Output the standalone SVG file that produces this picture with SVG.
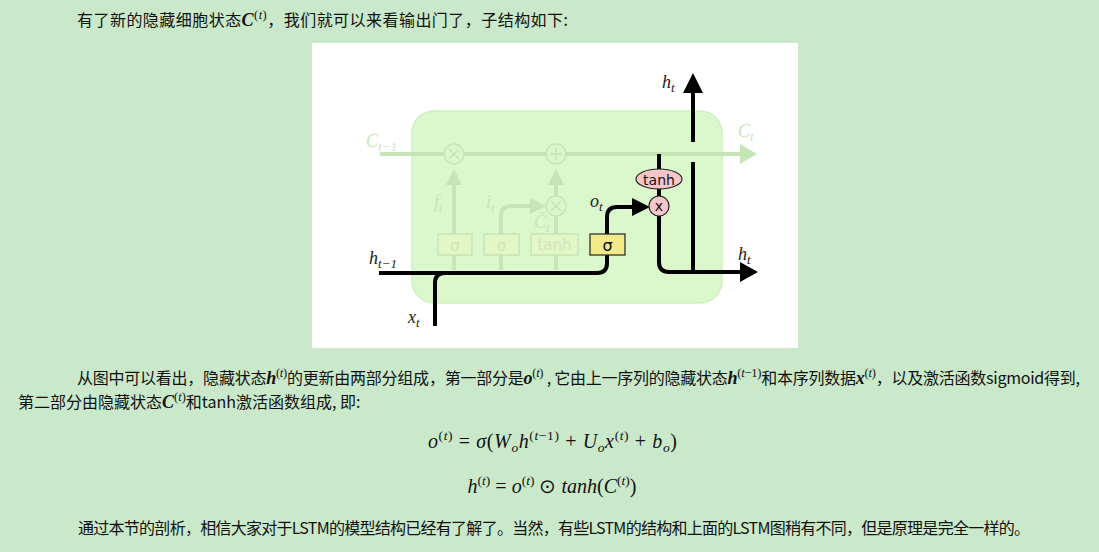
<svg xmlns="http://www.w3.org/2000/svg" width="1099" height="552" viewBox="0 0 1099 552">
<style>
.cn{font-family:"Noto Sans CJK SC","Noto Sans",sans-serif;font-size:16px;fill:#111}
.m{font-family:"Liberation Serif",serif;font-style:italic;font-size:18px;fill:#111}
.mu{font-family:"Liberation Serif",serif;font-size:18px;fill:#111}
.sup{font-size:12.5px}
.eq{font-family:"Liberation Serif",serif;font-style:italic;font-size:20px;fill:#111}
.es{font-size:13.5px}
.fl{fill:none;stroke:#c6e4b6;stroke-width:4}
.fa{fill:#c6e4b6}
.fc{fill:#daf7cc;stroke:#c6e4b6;stroke-width:1.5}
.fb{fill:#e3f6c6;stroke:#c9e4b5;stroke-width:1.5}
.ft{font-family:"DejaVu Sans",sans-serif;font-size:15px;fill:#cfe6bd;text-anchor:middle}
.fm{font-family:"Liberation Serif",serif;font-style:italic;font-size:18px;fill:#c8e5b8}
.bl{fill:none;stroke:#000;stroke-width:4}
.ba{fill:#000}
.lab{font-family:"Liberation Serif",serif;font-style:italic;font-size:18px;fill:#222}
.pk{fill:#f7c6c9;stroke:#222;stroke-width:1.2}
</style>
<rect width="1099" height="552" fill="#c9e9ca"/>
<text class="cn" x="77" y="26" textLength="491" lengthAdjust="spacing">有了新的隐藏细胞状态<tspan class="m" font-weight="bold">C</tspan><tspan class="mu sup" dy="-7">(<tspan font-style="italic">t</tspan>)</tspan><tspan dy="7">，我们就可以来看输出门了，子结构如下:</tspan></text>
<g id="figure">
<rect x="312" y="43" width="486" height="305" fill="#fff"/>
<rect id="cell" x="412" y="111" width="310" height="192" rx="22" fill="#daf8cc" stroke="#d0efc0" stroke-width="1.5"/>
<g id="faded">
<path class="fl" d="M380 154 H742"/>
<polygon class="fa" points="740,144 757,154 740,164"/>
<path class="fl" d="M454 270 V255 M454 234 V185"/>
<polygon class="fa" points="446,185 454,169 462,185"/>
<path class="fl" d="M501 270 V255 M501 234 V216 Q501 206 511 206 H530"/>
<polygon class="fa" points="530,198 546,206 530,214"/>
<path class="fl" d="M556 270 V255 M556 234 V216 M556 196 V185"/>
<polygon class="fa" points="548,185 556,169 564,185"/>
<circle class="fc" cx="454" cy="154" r="10"/>
<path d="M449 149 L459 159 M459 149 L449 159" stroke="#c6e4b6" stroke-width="1.5"/>
<circle class="fc" cx="556" cy="154" r="10"/>
<path d="M550 154 H562 M556 148 V160" stroke="#c6e4b6" stroke-width="1.5"/>
<circle class="fc" cx="556" cy="206" r="10"/>
<path d="M551 201 L561 211 M561 201 L551 211" stroke="#c6e4b6" stroke-width="1.5"/>
<rect class="fb" x="438" y="234" width="34" height="21"/>
<text class="ft" x="455" y="251">σ</text>
<rect class="fb" x="484" y="234" width="35" height="21"/>
<text class="ft" x="501.5" y="251">σ</text>
<rect class="fb" x="531" y="234" width="47" height="21"/>
<text class="ft" x="554.5" y="250">tanh</text>
<text class="fm" x="366" y="147">C<tspan font-size="13" dy="4">t−1</tspan></text>
<text class="fm" x="738" y="137">C<tspan font-size="13" dy="4">t</tspan></text>
<text class="fm" x="434" y="208">f<tspan font-size="13" dy="4">t</tspan></text>
<text class="fm" x="486" y="208">i<tspan font-size="13" dy="4">t</tspan></text>
<text class="fm" x="534" y="228">C̃<tspan font-size="13" dy="4">t</tspan></text>
</g>
<g id="connectors">
<path class="bl" d="M379 273 H597 Q607 273 607 263 V255"/>
<path class="bl" d="M435 326 V283 Q435 273 445 273"/>
<path class="bl" d="M607 234 V217 Q607 207 617 207 H634"/>
<polygon class="ba" points="632,198 650,207 632,216"/>
<path class="bl" d="M659 154 V196"/>
<path class="bl" d="M659 216 V262 Q659 272 669 272 H742"/>
<polygon class="ba" points="740,262 758,272 740,282"/>
<path class="bl" d="M693 272 V162 M693 142 V90"/>
<polygon class="ba" points="683,93 693,73 703,93"/>
</g>
<g id="sigma_o">
<rect x="590" y="234" width="35" height="21" fill="#f1e98a" stroke="#222" stroke-width="1.2"/>
<text x="607.5" y="251" font-family="DejaVu Sans,sans-serif" font-size="16" text-anchor="middle" fill="#111">σ</text>
</g>
<g id="tanh_o">
<ellipse class="pk" cx="659" cy="179" rx="23" ry="10"/>
<text x="659" y="184.5" font-family="DejaVu Sans,sans-serif" font-size="14" text-anchor="middle" fill="#111">tanh</text>
</g>
<g id="mult_o">
<circle class="pk" cx="659" cy="206" r="10"/>
<text x="659" y="211" font-family="DejaVu Sans,sans-serif" font-size="14" text-anchor="middle" fill="#111">x</text>
</g>
<g id="labels">
<text class="lab" x="662" y="88">h<tspan font-size="13" dy="4">t</tspan></text>
<text class="lab" x="738" y="260">h<tspan font-size="13" dy="4">t</tspan></text>
<text class="lab" x="369" y="264">h<tspan font-size="13" dy="4">t−1</tspan></text>
<text class="lab" x="408" y="323">x<tspan font-size="13" dy="4">t</tspan></text>
<text class="lab" x="590" y="207">o<tspan font-size="13" dy="4">t</tspan></text>
</g>
</g>
<text class="cn" x="77" y="384" textLength="1003" lengthAdjust="spacing">从图中可以看出，隐藏状态<tspan class="m" font-weight="bold">h</tspan><tspan class="mu sup" dy="-7">(<tspan font-style="italic">t</tspan>)</tspan><tspan dy="7">的更新由两部分组成，第一部分是</tspan><tspan class="m" font-weight="bold">o</tspan><tspan class="mu sup" dy="-7">(<tspan font-style="italic">t</tspan>)</tspan><tspan dy="7"> , 它由上一序列的隐藏状态</tspan><tspan class="m" font-weight="bold">h</tspan><tspan class="mu sup" dy="-7">(<tspan font-style="italic">t</tspan>−1)</tspan><tspan dy="7">和本序列数据</tspan><tspan class="m" font-weight="bold">x</tspan><tspan class="mu sup" dy="-7">(<tspan font-style="italic">t</tspan>)</tspan><tspan dy="7">，以及激活函数sigmoid得到,</tspan></text>
<text class="cn" x="18" y="408">第二部分由隐藏状态<tspan class="m" font-weight="bold">C</tspan><tspan class="mu sup" dy="-7">(<tspan font-style="italic">t</tspan>)</tspan><tspan dy="7">和tanh激活函数组成, 即:</tspan></text>
<text class="eq" x="428" y="448" textLength="249" lengthAdjust="spacing">o<tspan class="es" font-style="normal" dy="-8">(<tspan font-style="italic">t</tspan>)</tspan><tspan dy="8" font-style="normal"> = </tspan>σ<tspan font-style="normal">(</tspan>W<tspan class="es" dy="4">o</tspan><tspan dy="-4">h</tspan><tspan class="es" font-style="normal" dy="-8">(<tspan font-style="italic">t</tspan>−1)</tspan><tspan dy="8" font-style="normal"> + </tspan>U<tspan class="es" dy="4">o</tspan><tspan dy="-4">x</tspan><tspan class="es" font-style="normal" dy="-8">(<tspan font-style="italic">t</tspan>)</tspan><tspan dy="8" font-style="normal"> + </tspan>b<tspan class="es" dy="4">o</tspan><tspan dy="-4" font-style="normal">)</tspan></text>
<text class="eq" x="552" y="493" text-anchor="middle">h<tspan class="es" font-style="normal" dy="-8">(<tspan font-style="italic">t</tspan>)</tspan><tspan dy="8" font-style="normal"> = </tspan>o<tspan class="es" font-style="normal" dy="-8">(<tspan font-style="italic">t</tspan>)</tspan><tspan dy="8" font-style="normal"> ⊙ </tspan>tanh<tspan font-style="normal">(</tspan>C<tspan class="es" font-style="normal" dy="-8">(<tspan font-style="italic">t</tspan>)</tspan><tspan dy="8" font-style="normal">)</tspan></text>
<text class="cn" x="78" y="534" textLength="952" lengthAdjust="spacing">通过本节的剖析，相信大家对于LSTM的模型结构已经有了解了。当然，有些LSTM的结构和上面的LSTM图稍有不同，但是原理是完全一样的。</text>
</svg>
